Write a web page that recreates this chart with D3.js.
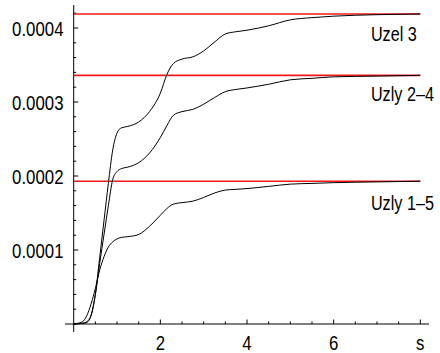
<!DOCTYPE html>
<html>
<head>
<meta charset="utf-8">
<script src="https://cdn.jsdelivr.net/npm/d3@7"></script>
<style>
  body { margin: 0; background: #fff; }
  svg { display: block; }
</style>
</head>
<body>
<div id="chart"></div>
<script>
// Time samples (s) shared by the three curves
const timeS = [0, 0.2, 0.3, 0.4, 0.5, 0.6, 0.7, 0.8, 0.9, 1.0, 1.1, 1.25, 1.5, 1.75, 2.0, 2.15, 2.3, 2.5, 2.75, 3.0, 3.25, 3.5, 3.75, 4.0, 4.5, 5.0, 5.5, 6.0, 7.0, 8.0];

// Curve values
const uzel3 = [0, 0.000001, 0.000002, 0.000011, 0.000040, 0.000090, 0.000140, 0.000190, 0.000235, 0.000258, 0.000265, 0.000267, 0.000273, 0.000287, 0.000312, 0.000337, 0.000352, 0.000358, 0.000361, 0.000369, 0.000381, 0.000392, 0.000395, 0.000397, 0.000403, 0.000411, 0.000414, 0.000416, 0.000418, 0.000419];
const uzly24 = [0, 0.000001, 0.000003, 0.000012, 0.000040, 0.000082, 0.000121, 0.000160, 0.000195, 0.000206, 0.000210, 0.000212, 0.000218, 0.000231, 0.000252, 0.000268, 0.000282, 0.000287, 0.000290, 0.000297, 0.000306, 0.000314, 0.000317, 0.000319, 0.000324, 0.000330, 0.000332, 0.000334, 0.000335, 0.000336];
const uzly15 = [0, 0.000003, 0.000011, 0.000027, 0.000048, 0.000073, 0.000091, 0.000104, 0.000111, 0.000115, 0.000117, 0.000118, 0.000121, 0.000132, 0.000147, 0.000156, 0.000162, 0.000164, 0.000166, 0.000171, 0.000177, 0.000181, 0.000182, 0.000183, 0.000186, 0.000189, 0.000190, 0.000191, 0.000192, 0.000193];

const seriesNames = ["Uzel 3", "Uzly 2–4", "Uzly 1–5"];
const limits = [0.000419, 0.000336, 0.000193];
// label baselines, in data units
const labelLevels = [0.000383, 0.000302, 0.000154];
const labelTime = 6.86;

const yTicks = [0.0001, 0.0002, 0.0003, 0.0004];
const yTickLabels = ["0.0001", "0.0002", "0.0003", "0.0004"];
const xTicks = [2, 4, 6, 8];
const xTickLabels = ["2", "4", "6", "s"];

const W = 440, H = 353;

const x = d3.scaleLinear().domain([0, 8]).range([73.7, 420.3]);
const y = d3.scaleLinear().domain([0, 0.0004]).range([324, 28]);

const svg = d3.select("#chart").append("svg")
    .attr("width", W)
    .attr("height", H)
    .style("font-family", "'Liberation Sans', Arial, sans-serif");

// the original font is narrow: draw text squeezed horizontally
function narrowText(g, px, py, str, anchor, k) {
    return g.append("text")
        .attr("transform", `translate(${px},${py}) scale(${k},1)`)
        .attr("text-anchor", anchor)
        .style("font-size", "20.5px")
        .text(str);
}

// axes lines
svg.append("line")
    .attr("x1", x(0)).attr("x2", x(0))
    .attr("y1", y(-0.0000108)).attr("y2", y(0.000431))
    .attr("stroke", "#000").attr("stroke-width", 1);
svg.append("line")
    .attr("x1", x(-0.2)).attr("x2", x(8.2))
    .attr("y1", y(0)).attr("y2", y(0))
    .attr("stroke", "#000").attr("stroke-width", 1);

// minor ticks
const yMinor = d3.range(1, 22).map(i => i * 0.00002).filter(v => !yTicks.some(t => Math.abs(t - v) < 1e-9));
const xMinor = d3.range(1, 17).map(i => i * 0.5).filter(v => !xTicks.includes(v));

svg.append("g").selectAll("line").data(yMinor).join("line")
    .attr("x1", x(0)).attr("x2", x(0) + 2.5)
    .attr("y1", d => y(d)).attr("y2", d => y(d))
    .attr("stroke", "#000").attr("stroke-width", 1);
svg.append("g").selectAll("line").data(yTicks).join("line")
    .attr("x1", x(0)).attr("x2", x(0) + 4.5)
    .attr("y1", d => y(d)).attr("y2", d => y(d))
    .attr("stroke", "#000").attr("stroke-width", 1);
svg.append("g").selectAll("line").data(xMinor).join("line")
    .attr("x1", d => x(d)).attr("x2", d => x(d))
    .attr("y1", y(0)).attr("y2", y(0) - 2.5)
    .attr("stroke", "#000").attr("stroke-width", 1);
svg.append("g").selectAll("line").data(xTicks).join("line")
    .attr("x1", d => x(d)).attr("x2", d => x(d))
    .attr("y1", y(0)).attr("y2", y(0) - 4.5)
    .attr("stroke", "#000").attr("stroke-width", 1);

// tick labels
const gy = svg.append("g");
yTicks.forEach((d, i) => narrowText(gy, 63.5, y(d) + 7.5, yTickLabels[i], "end", 0.82));
const gx = svg.append("g");
xTicks.forEach((d, i) => narrowText(gx, x(d), 349.5, xTickLabels[i], "middle", 0.82));

// red limit lines
svg.append("g").selectAll("line").data(limits).join("line")
    .attr("x1", x(0)).attr("x2", x(8))
    .attr("y1", d => y(d)).attr("y2", d => y(d))
    .attr("stroke", "#f01818").attr("stroke-width", 1.6);

// curves
const line = d3.line()
    .x(d => x(d[0]))
    .y(d => y(d[1]))
    .curve(d3.curveMonotoneX);

[uzel3, uzly24, uzly15].forEach(vals => {
    svg.append("path")
        .datum(timeS.map((t, i) => [t, vals[i]]))
        .attr("fill", "none")
        .attr("stroke", "#000")
        .attr("stroke-width", 1)
        .attr("d", line);
});

// series labels
const gl = svg.append("g");
seriesNames.forEach((d, i) => narrowText(gl, x(labelTime), y(labelLevels[i]), d, "start", 0.79));
</script>
</body>
</html>
